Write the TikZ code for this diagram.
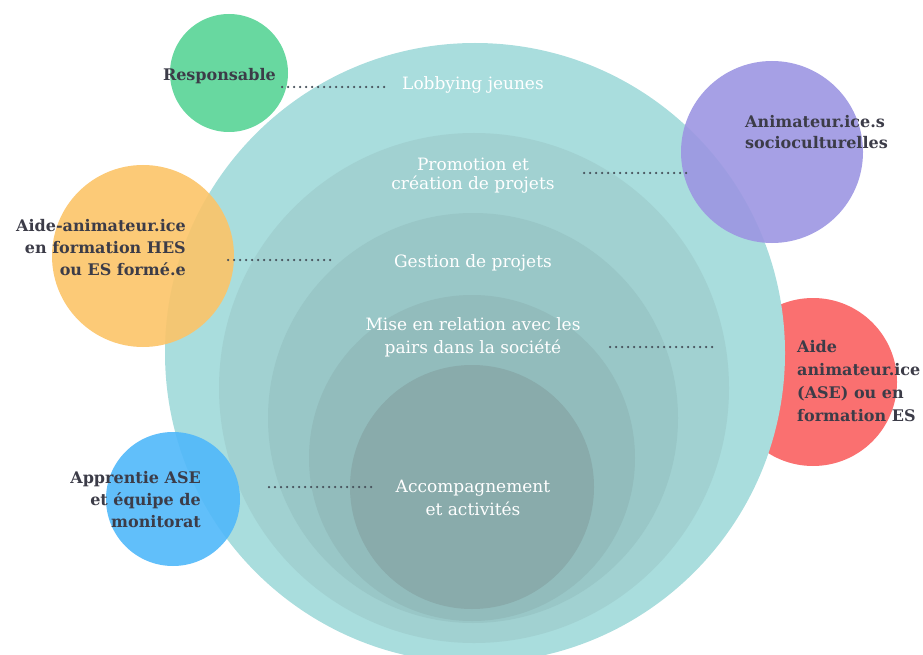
\documentclass[tikz,border=0pt]{standalone}
\usepackage{fontspec}
\setmainfont{DejaVu Serif}
\usepackage{tikz}
\definecolor{ringA}{RGB}{169,221,221}
\definecolor{ringB}{RGB}{161,209,209}
\definecolor{ringC}{RGB}{153,199,199}
\definecolor{ringD}{RGB}{146,188,188}
\definecolor{ringE}{RGB}{137,171,171}
\definecolor{greenrole}{RGB}{88,212,150}
\definecolor{purplerole}{RGB}{156,150,226}
\definecolor{orangerole}{RGB}{252,196,104}
\definecolor{redrole}{RGB}{250,112,112}
\definecolor{bluerole}{RGB}{80,184,250}
\definecolor{roletext}{RGB}{60,60,72}
\definecolor{dotgray}{RGB}{70,80,90}
\tikzstyle{Ring}=[shape=circle, draw=none, inner sep=0pt]
\tikzstyle{Role}=[shape=circle, draw=none, inner sep=0pt, fill opacity=0.9]
\tikzstyle{Task}=[text=white, align=center, font=\fontsize{17}{19}\selectfont]
\tikzstyle{RoleText}=[text=roletext, font=\bfseries\fontsize{16}{22}\selectfont, inner sep=0pt]
\tikzstyle{dots}=[draw=dotgray, line width=2.5pt, line cap=round, dash pattern=on 0pt off 6pt]
\pgfdeclarelayer{circlelayer}
\pgfdeclarelayer{textlayer}
\pgfsetlayers{circlelayer, main, textlayer}

\begin{document}
\begin{tikzpicture}[x=1pt, y=-1pt]
	\useasboundingbox (0,0) rectangle (923,655);
	\begin{pgfonlayer}{circlelayer}
		% role hidden behind the rings
		\node [style=Role, fill=redrole, fill opacity=1, minimum size=168pt] (red) at (813,382) {};
		% nested rings
		\node [style=Ring, fill=ringA, minimum size=620pt] (ringA) at (475,353) {};
		\node [style=Ring, fill=ringB, minimum size=510pt] (ringB) at (474,388) {};
		\node [style=Ring, fill=ringC, minimum size=410pt] (ringC) at (473,418) {};
		\node [style=Ring, fill=ringD, minimum size=326pt] (ringD) at (472,458) {};
		\node [style=Ring, fill=ringE, minimum size=244pt] (ringE) at (472,487) {};
		% roles on top
		\node [style=Role, fill=greenrole, minimum size=118pt] (green) at (229,73) {};
		\node [style=Role, fill=purplerole, minimum size=182pt] (purple) at (772,152) {};
		\node [style=Role, fill=orangerole, minimum size=182pt] (orange) at (143,256) {};
		\node [style=Role, fill=bluerole, minimum size=134pt] (blue) at (173,499) {};
	\end{pgfonlayer}
	\begin{pgfonlayer}{textlayer}
		% tasks
		\node [style=Task] (lobbying) at (473,85) {Lobbying jeunes};
		\node [style=Task, font=\fontsize{17}{19}\selectfont] (promotion) at (473,176) {Promotion et\\création de projets};
		\node [style=Task] (gestion) at (473,263) {Gestion de projets};
		\node [style=Task, font=\fontsize{17}{23}\selectfont] (relation) at (473,337) {Mise en relation avec les\\pairs dans la société};
		\node [style=Task, font=\fontsize{17}{23}\selectfont] (accomp) at (473,498) {Accompagnement\\et activités};
		% roles
		\node [style=RoleText, anchor=east] (responsable) at (276,76) {Responsable};
		\node [style=RoleText, anchor=west, align=left, font=\bfseries\fontsize{16}{21}\selectfont] (animateurs) at (745,132) {Animateur.ice.s\\socioculturelles};
		\node [style=RoleText, anchor=east, align=right] (aideanim) at (186,248) {Aide-animateur.ice\\en formation HES\\ou ES formé.e};
		\node [style=RoleText, anchor=west, align=left, font=\bfseries\fontsize{16}{23}\selectfont] (aideASE) at (797,381) {Aide\\animateur.ice\\(ASE) ou en\\formation ES};
		\node [style=RoleText, anchor=east, align=right] (apprentie) at (201,500) {Apprentie ASE\\et équipe de\\monitorat};
		% dotted links
		\coordinate (lobbyingStart) at (282,87);
		\coordinate (lobbyingEnd) at (388,87);
		\coordinate (promotionStart) at (584,173);
		\coordinate (promotionEnd) at (690,173);
		\coordinate (gestionStart) at (228,260);
		\coordinate (gestionEnd) at (333,260);
		\coordinate (relationStart) at (610,347);
		\coordinate (relationEnd) at (716,347);
		\coordinate (accompStart) at (269,487);
		\coordinate (accompEnd) at (375,487);
		\draw [style=dots] (lobbyingStart) -- (lobbyingEnd);
		\draw [style=dots] (promotionStart) -- (promotionEnd);
		\draw [style=dots] (gestionStart) -- (gestionEnd);
		\draw [style=dots] (relationStart) -- (relationEnd);
		\draw [style=dots] (accompStart) -- (accompEnd);
	\end{pgfonlayer}
\end{tikzpicture}
\end{document}
